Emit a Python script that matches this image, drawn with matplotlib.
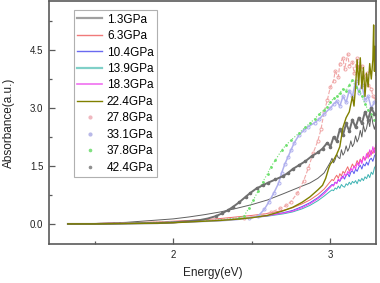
import matplotlib
matplotlib.use('Agg')
import matplotlib.pyplot as plt
from matplotlib.lines import Line2D

plt.rcParams['font.family'] = ['Liberation Sans', 'DejaVu Sans']

# ===== data =====
labels = ['1.3GPa', '6.3GPa', '10.4GPa', '13.9GPa', '18.3GPa', '22.4GPa',
          '27.8GPa', '33.1GPa', '37.8GPa', '42.4GPa']

# shared energy grid for the plain line spectra
x_line = [1.33, 1.5, 1.7, 1.9, 2.0, 2.1, 2.2, 2.3, 2.4, 2.5, 2.6, 2.7, 2.76, 2.82, 2.87, 2.92, 2.96, 3.0,
          3.01, 3.02, 3.03, 3.04, 3.05, 3.06, 3.07, 3.08, 3.09, 3.10, 3.11, 3.12, 3.13, 3.14, 3.15,
          3.16, 3.17, 3.18, 3.19, 3.20, 3.21, 3.22, 3.23, 3.24, 3.25, 3.26, 3.27, 3.28, 3.29]

y_1p3 = [0.00, 0.01, 0.04, 0.10, 0.13, 0.18, 0.24, 0.31, 0.40, 0.50, 0.62, 0.78, 0.88, 0.98, 1.06, 1.18, 1.32, 1.60,
         1.70, 1.58, 1.66, 1.80, 1.72, 1.69, 1.92, 1.78, 1.85, 2.02, 1.88, 1.97, 2.15, 2.00, 2.08,
         2.28, 2.12, 2.22, 2.42, 2.25, 2.55, 2.38, 2.48, 2.70, 2.52, 2.85, 2.60, 2.45, 2.62]
y_6p3 = [0.00, 0.01, 0.03, 0.05, 0.07, 0.09, 0.11, 0.14, 0.18, 0.22, 0.27, 0.35, 0.42, 0.52, 0.62, 0.76, 0.90, 1.10,
         1.15, 1.12, 1.20, 1.26, 1.18, 1.30, 1.24, 1.36, 1.31, 1.40, 1.48, 1.36, 1.45, 1.55, 1.47,
         1.52, 1.64, 1.55, 1.68, 1.60, 1.75, 1.66, 1.72, 1.86, 1.74, 1.90, 1.82, 1.95, 2.02]
y_10p4 = [0.00, 0.00, 0.01, 0.03, 0.04, 0.06, 0.08, 0.10, 0.13, 0.17, 0.22, 0.29, 0.35, 0.45, 0.55, 0.68, 0.82, 0.98,
          1.02, 1.00, 1.08, 1.05, 1.14, 1.10, 1.18, 1.24, 1.16, 1.26, 1.30, 1.22, 1.34, 1.38, 1.30,
          1.42, 1.36, 1.46, 1.52, 1.42, 1.55, 1.50, 1.60, 1.52, 1.66, 1.70, 1.62, 1.76, 1.82]
y_13p9 = [0.00, 0.00, 0.01, 0.02, 0.03, 0.05, 0.07, 0.09, 0.12, 0.16, 0.20, 0.26, 0.31, 0.39, 0.48, 0.60, 0.72, 0.85,
          0.88, 0.86, 0.93, 0.90, 0.98, 0.92, 1.02, 0.97, 0.95, 1.04, 1.00, 1.08, 1.02, 1.10, 1.06,
          1.12, 1.04, 1.15, 1.10, 1.18, 1.12, 1.22, 1.17, 1.28, 1.20, 1.34, 1.28, 1.45, 1.52]
y_18p3 = [0.00, 0.00, 0.01, 0.02, 0.03, 0.05, 0.07, 0.09, 0.12, 0.16, 0.21, 0.28, 0.33, 0.42, 0.52, 0.65, 0.78, 0.95,
          1.00, 0.98, 1.08, 1.04, 1.16, 1.12, 1.22, 1.18, 1.30, 1.24, 1.36, 1.30, 1.44, 1.38, 1.50,
          1.42, 1.58, 1.50, 1.66, 1.56, 1.74, 1.64, 1.82, 1.70, 1.92, 1.78, 2.00, 1.84, 2.06]

x_22p4 = [1.33, 1.5, 1.7, 1.9, 2.0, 2.1, 2.2, 2.3, 2.4, 2.5, 2.6, 2.7, 2.76, 2.82, 2.87, 2.92, 2.95, 2.97, 2.99,
          3.0, 3.02, 3.04, 3.06, 3.08, 3.10, 3.12, 3.14, 3.15, 3.16, 3.17, 3.18, 3.19, 3.20, 3.21, 3.22,
          3.23, 3.24, 3.25, 3.26, 3.27, 3.275, 3.28, 3.285, 3.29]
y_22p4 = [0.00, 0.00, 0.01, 0.02, 0.03, 0.05, 0.07, 0.09, 0.12, 0.16, 0.22, 0.34, 0.43, 0.56, 0.70, 0.88, 1.00, 1.18, 1.45,
          1.55, 1.65, 1.80, 2.00, 2.50, 2.75, 2.90, 3.30, 3.05, 3.55, 4.25, 3.60, 4.30, 3.50, 4.05, 3.30,
          3.90, 3.55, 4.15, 3.75, 4.25, 5.15, 3.95, 4.60, 3.85]

x_27p8 = [1.33, 1.5, 1.7, 1.9, 2.1, 2.3, 2.45, 2.55, 2.62, 2.68, 2.72, 2.75, 2.79, 2.83, 2.86, 2.89, 2.92, 2.94,
          2.96, 2.98, 3.0, 3.02, 3.03, 3.05, 3.06, 3.08, 3.09, 3.11, 3.12, 3.14, 3.15, 3.17, 3.18, 3.2, 3.21,
          3.23, 3.24, 3.26, 3.27, 3.29]
y_27p8 = [0.00, 0.01, 0.02, 0.04, 0.07, 0.11, 0.16, 0.22, 0.30, 0.40, 0.48, 0.58, 0.80, 1.12, 1.45, 1.83, 2.15, 2.45,
          2.90, 3.20, 3.55, 3.70, 3.95, 3.80, 4.15, 4.30, 4.00, 4.40, 4.10, 4.20, 3.90, 4.30, 4.05, 4.10, 3.80,
          3.90, 3.60, 3.50, 3.30, 3.20]

x_33p1 = [1.33, 1.5, 1.7, 1.9, 2.1, 2.3, 2.4, 2.48, 2.54, 2.58, 2.61, 2.64, 2.67, 2.69, 2.71, 2.73, 2.75, 2.77,
          2.8, 2.83, 2.86, 2.9, 2.93, 2.96, 3.0, 3.02, 3.04, 3.06, 3.08, 3.1, 3.12, 3.14, 3.16, 3.18, 3.2,
          3.22, 3.24, 3.26, 3.28]
y_33p1 = [0.00, 0.00, 0.01, 0.03, 0.05, 0.08, 0.11, 0.15, 0.20, 0.38, 0.58, 0.80, 1.05, 1.32, 1.55, 1.73, 1.92, 2.10,
          2.30, 2.42, 2.52, 2.62, 2.72, 2.85, 3.00, 3.10, 3.18, 3.05, 3.30, 3.15, 3.45, 3.30, 3.70, 3.40, 3.60,
          3.20, 3.30, 3.00, 3.15]

x_37p8 = [1.33, 1.5, 1.7, 1.9, 2.1, 2.25, 2.35, 2.42, 2.45, 2.48, 2.51, 2.54, 2.57, 2.6, 2.62, 2.65, 2.69, 2.72,
          2.75, 2.8, 2.84, 2.87, 2.9, 2.93, 2.96, 2.98, 3.0, 3.02, 3.04, 3.06, 3.08, 3.1, 3.12, 3.14, 3.16,
          3.18, 3.2, 3.22, 3.24, 3.26, 3.28]
y_37p8 = [0.00, 0.00, 0.02, 0.04, 0.06, 0.09, 0.13, 0.16, 0.20, 0.40, 0.62, 0.85, 1.09, 1.30, 1.47, 1.65, 1.91, 2.05,
          2.17, 2.35, 2.50, 2.61, 2.72, 2.85, 2.95, 3.03, 3.15, 3.25, 3.30, 3.39, 3.50, 3.45, 3.60, 3.72, 3.55,
          3.45, 3.30, 3.10, 2.95, 2.85, 2.70]

x_42p4 = [1.33, 1.5, 1.7, 1.9, 2.0, 2.1, 2.17, 2.22, 2.27, 2.31, 2.35, 2.38, 2.42, 2.46, 2.49, 2.53, 2.57, 2.6,
          2.65, 2.7, 2.73, 2.76, 2.8, 2.84, 2.88, 2.92, 2.95, 2.98, 3.0, 3.02, 3.04, 3.06, 3.08, 3.1, 3.12,
          3.14, 3.16, 3.18, 3.2, 3.22, 3.24, 3.26, 3.28]
y_42p4 = [0.00, 0.00, 0.01, 0.02, 0.04, 0.07, 0.10, 0.14, 0.20, 0.27, 0.36, 0.44, 0.56, 0.70, 0.80, 0.92, 1.00, 1.06,
          1.15, 1.24, 1.32, 1.42, 1.52, 1.62, 1.75, 1.85, 1.95, 2.10, 2.00, 2.25, 2.15, 2.45, 2.30, 2.60, 2.40,
          2.70, 2.50, 2.75, 2.60, 2.90, 2.70, 3.00, 2.85]

x_ticks = [2, 3]
y_ticks = [0.0, 1.5, 3.0, 4.5]

# ===== styles =====
line_colors = ['#606060', '#f06a6a', '#5a5af0', '#40b4b4', '#f040f0', '#808000']
marker_colors = ['#f0a8a8', '#b0b0ee', '#6ee06e', '#707070']

fig = plt.figure(figsize=(3.8, 2.83), dpi=100)
ax = fig.add_axes([49 / 380, 39 / 283, 327 / 380, 243 / 283])

for ys, c in zip([y_1p3, y_6p3, y_10p4, y_13p9, y_18p3], line_colors[:5]):
    ax.plot(x_line, ys, color=c, lw=0.7)

ax.plot(x_27p8, y_27p8, color=marker_colors[0], lw=0.8, ls='--', marker='o', ms=2.2,
        mec=marker_colors[0], mfc='none', mew=0.7, markevery=slice(6, None))
ax.plot(x_33p1, y_33p1, color=marker_colors[1], lw=1.1, marker='o', ms=2.2,
        mec=marker_colors[1], mfc='none', mew=0.7, markevery=slice(7, None))
ax.plot(x_37p8, y_37p8, color=marker_colors[2], lw=0.8, ls=':', marker='.', ms=2.0,
        mec=marker_colors[2], mfc=marker_colors[2], markevery=slice(7, None))
ax.plot(x_42p4, y_42p4, color=marker_colors[3], lw=1.4, marker='o', ms=1.6,
        mec=marker_colors[3], mfc=marker_colors[3], markevery=slice(8, None))
ax.plot(x_22p4, y_22p4, color=line_colors[5], lw=1.0)

ax.set_xlim(1.21, 3.29)
ax.set_ylim(-0.52, 5.77)
ax.set_xticks(x_ticks)
ax.set_xticklabels([str(t) for t in x_ticks])
ax.set_yticks(y_ticks)
ax.set_yticklabels([f'{t:.1f}' for t in y_ticks])
ax.set_xticks([1.5, 2.5], minor=True)
ax.set_yticks([0.75, 2.25, 3.75, 5.25], minor=True)

spine_c = '#5a5a5a'
for s in ax.spines.values():
    s.set_color(spine_c)
    s.set_linewidth(1.2)
ax.tick_params(which='both', direction='in', top=False, right=False, colors=spine_c,
               labelcolor='#222222', labelsize=7, width=0.9, pad=4)
ax.tick_params(which='major', length=4)
ax.tick_params(which='minor', length=2.5)

ax.set_xlabel('Energy(eV)', fontsize=8.5, color='#222222')
ax.set_ylabel('Absorbance(a.u.)', fontsize=8.5, color='#222222')
ax.xaxis.set_label_coords(0.5, -0.095)
ax.yaxis.set_label_coords(-0.105, 0.5)

handles = [
    Line2D([], [], color='#a0a0a0', lw=1.6),
    Line2D([], [], color='#f07a7a', lw=1.0),
    Line2D([], [], color='#6a6af0', lw=1.0),
    Line2D([], [], color='#80d0c8', lw=1.6),
    Line2D([], [], color='#f070f0', lw=1.2),
    Line2D([], [], color='#808000', lw=1.0),
    Line2D([], [], ls='none', marker='o', ms=2.0, color='#f0b8c0'),
    Line2D([], [], ls='none', marker='o', ms=2.0, color='#b8b8e8'),
    Line2D([], [], ls='none', marker='o', ms=1.6, color='#80e080'),
    Line2D([], [], ls='none', marker='o', ms=1.6, color='#909090'),
]
leg = ax.legend(handles, labels, loc='upper left', bbox_to_anchor=(0.076, 0.963),
                borderaxespad=0, fontsize=8.5, handlelength=2.1, handletextpad=0.4,
                labelspacing=0.38, borderpad=0.3, fancybox=False, framealpha=1,
                edgecolor='#b0b0b0', numpoints=1)
leg.get_frame().set_linewidth(0.8)

fig.savefig('out.png', dpi=100)
